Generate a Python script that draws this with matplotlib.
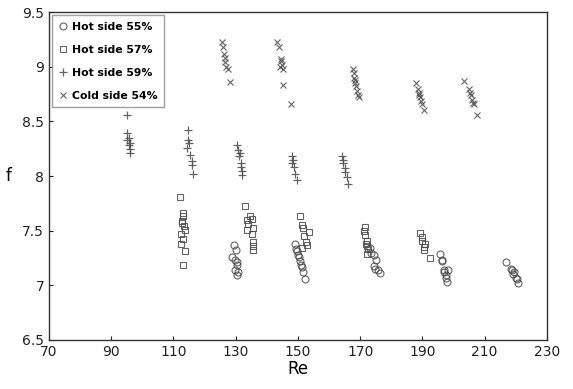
import matplotlib

matplotlib.use("Agg")

import matplotlib.pyplot as plt

# Hot side 55% (circles)
hot55_re = [129.3, 130.2, 128.7, 129.8, 130.5, 130.4, 129.8, 130.6, 130.4,
            149.1, 149.3, 149.6, 150.0, 150.2, 150.8, 151.0, 151.4, 151.5, 152.3,
            173.2, 173.6, 174.3, 175.1, 174.3, 174.8, 175.6, 176.4,
            195.7, 196.2, 196.3, 196.8, 196.8, 198.2, 197.7, 197.7, 198.0,
            217.0, 218.5, 218.8, 219.4, 219.2, 220.0, 220.4, 220.8]
hot55_f = [7.37, 7.32, 7.26, 7.23, 7.21, 7.19, 7.14, 7.12, 7.09,
           7.38, 7.33, 7.31, 7.28, 7.26, 7.22, 7.19, 7.17, 7.12, 7.06,
           7.34, 7.30, 7.28, 7.23, 7.18, 7.15, 7.14, 7.11,
           7.29, 7.23, 7.22, 7.14, 7.12, 7.14, 7.09, 7.07, 7.03,
           7.21, 7.15, 7.14, 7.12, 7.10, 7.07, 7.06, 7.02]

# Hot side 57% (squares)
hot57_re = [112.1, 113.0, 112.9, 112.7, 112.8, 113.3, 113.6, 112.4, 113.2, 112.3, 113.6, 113.2,
            133.0, 134.6, 135.1, 133.6, 134.0, 133.6, 135.7, 135.1, 135.4, 135.6, 135.6,
            150.5, 151.3, 151.5, 153.4, 151.8, 152.6, 152.9, 151.3,
            171.4, 171.3, 171.4, 172.2, 172.0, 172.2, 172.5, 172.2,
            189.3, 189.8, 189.9, 190.9, 190.4, 190.4, 192.5]
hot57_f = [7.81, 7.66, 7.63, 7.59, 7.57, 7.54, 7.51, 7.47, 7.42, 7.38, 7.31, 7.19,
           7.73, 7.63, 7.61, 7.60, 7.56, 7.51, 7.52, 7.47, 7.40, 7.36, 7.32,
           7.63, 7.55, 7.52, 7.49, 7.45, 7.40, 7.37, 7.34,
           7.53, 7.50, 7.46, 7.41, 7.38, 7.36, 7.33, 7.29,
           7.48, 7.44, 7.41, 7.38, 7.35, 7.32, 7.25]

# Hot side 59% (plus)
hot59_re = [95.0, 95.0, 95.6, 95.0, 96.1, 95.8, 95.9, 96.1,
            114.8, 114.8, 115.0, 114.3, 115.4, 115.9, 116.0, 116.4,
            130.4, 130.8, 131.5, 131.2, 131.8, 131.8, 132.0, 132.0,
            148.0, 148.3, 148.0, 148.6, 149.1, 149.6,
            164.1, 164.4, 164.6, 165.0, 165.2, 165.6, 166.2]
hot59_f = [8.56, 8.39, 8.35, 8.33, 8.30, 8.28, 8.25, 8.21,
           8.42, 8.33, 8.30, 8.26, 8.19, 8.14, 8.10, 8.02,
           8.28, 8.24, 8.21, 8.18, 8.12, 8.08, 8.05, 8.01,
           8.18, 8.15, 8.12, 8.08, 8.02, 7.96,
           8.18, 8.15, 8.12, 8.07, 8.04, 7.99, 7.93]

# Cold side 54% (crosses)
cold54_re = [125.5, 126.0, 126.1, 126.4, 126.7, 127.0, 127.4, 128.2,
             143.2, 144.0, 144.7, 144.5, 145.0, 144.2, 145.2, 145.2, 147.8,
             167.6, 168.0, 168.1, 168.3, 168.4, 168.7, 169.0, 169.3, 169.6,
             188.0, 188.5, 188.8, 189.0, 189.3, 189.6, 189.9, 190.6,
             203.5, 205.0, 205.3, 205.6, 206.0, 206.3, 206.5, 207.5]
cold54_f = [9.23, 9.18, 9.12, 9.08, 9.04, 9.00, 8.98, 8.86,
            9.23, 9.18, 9.07, 9.05, 9.02, 9.00, 8.98, 8.83, 8.66,
            8.98, 8.94, 8.90, 8.88, 8.85, 8.82, 8.78, 8.74, 8.72,
            8.85, 8.80, 8.76, 8.74, 8.72, 8.69, 8.66, 8.60,
            8.87, 8.80, 8.76, 8.74, 8.70, 8.67, 8.66, 8.56]

x_ticks = [70, 90, 110, 130, 150, 170, 190, 210, 230]
y_ticks = [6.5, 7, 7.5, 8, 8.5, 9, 9.5]


def main() -> None:
    fig = plt.figure(figsize=(5.73, 3.89), dpi=100)
    ax = fig.add_axes([0.0855, 0.126, 0.869, 0.843])

    grey = "#4a4a4a"
    ms = 5.0
    ax.plot(hot55_re, hot55_f, "o", ms=ms, mfc="none", mec=grey, mew=0.8,
            alpha=0.85, label="Hot side 55%")
    ax.plot(hot57_re, hot57_f, "s", ms=ms, mfc="none", mec=grey, mew=0.8,
            alpha=0.85, label="Hot side 57%")
    ax.plot(hot59_re, hot59_f, "+", ms=6, mec=grey, mew=0.9,
            alpha=0.85, label="Hot side 59%")
    ax.plot(cold54_re, cold54_f, "x", ms=5, mec=grey, mew=0.8,
            alpha=0.85, label="Cold side 54%")

    ax.set_xlim(70, 230)
    ax.set_ylim(6.5, 9.5)
    ax.set_xticks(x_ticks)
    ax.set_yticks(y_ticks)
    ax.set_yticklabels([f"{v:g}" for v in y_ticks])
    ax.tick_params(direction="in", length=3, labelsize=10, colors="#222222")
    for s in ax.spines.values():
        s.set_linewidth(1.0)
        s.set_color("#333333")

    ax.set_xlabel("Re", fontsize=12, labelpad=1)
    ax.set_ylabel("f", fontsize=12, rotation=0, labelpad=10, va="center")

    leg = ax.legend(loc="upper left", bbox_to_anchor=(0.0, 1.0), borderaxespad=0.3,
                    fancybox=False, edgecolor="#888888",
                    prop={"weight": "bold", "size": 7.8}, handlelength=0.8,
                    handletextpad=0.4, labelspacing=1.2, borderpad=0.6)
    leg.get_frame().set_linewidth(1.0)

    fig.savefig("out.png", dpi=100)


if __name__ == "__main__":
    main()
